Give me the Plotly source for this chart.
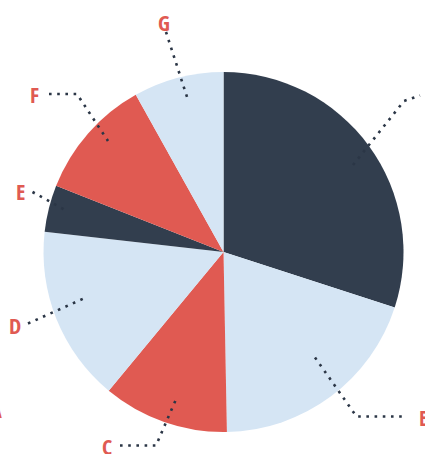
import plotly.graph_objects as go

# ---- data ----
labels = ["A", "B", "C", "D", "E", "F", "G"]
values = [30.0, 19.7, 11.3, 15.8, 4.2, 10.9, 8.1]
slice_colors = ["#323e4e", "#d5e5f4", "#e05a52", "#d5e5f4", "#323e4e", "#e05a52", "#d5e5f4"]

W, H = 425, 454
CX, CY, R = 223.5, 252.0, 180.0


def px(x):
    return x / W


def py(y):
    return 1 - y / H


fig = go.Figure(go.Pie(
    labels=labels,
    values=values,
    sort=False,
    direction="clockwise",
    rotation=0,
    marker=dict(colors=slice_colors, line=dict(width=0)),
    textinfo="none",
    hoverinfo="label+value",
    showlegend=False,
    domain=dict(x=[px(CX - R), px(CX + R)], y=[py(CY + R), py(CY - R)]),
))

# callout geometry (pixels): label position and leader polyline
callouts = {
    "G": dict(text=(163.5, 22), anchor="center", path=[(166, 32), (188, 100)]),
    "F": dict(text=(34.5, 94), anchor="center", path=[(49, 94), (77, 94), (108, 141)]),
    "E": dict(text=(20, 191), anchor="center", path=[(32.5, 192), (67, 211)]),
    "D": dict(text=(15, 325), anchor="center", path=[(28, 323.5), (87, 297)]),
    "C": dict(text=(107, 446), anchor="center", path=[(120, 445.5), (156, 445.5), (177, 397)]),
    "B": dict(text=(416.5, 417), anchor="left", path=[(315, 357.5), (356.5, 416.5), (405.5, 416.5)]),
    "A": dict(text=(3.5, 408.5), anchor="right", path=[(353, 165), (404, 101), (420, 95.5)]),
}

label_font = dict(family="Open Sans Condensed, Roboto Condensed, sans-serif",
                  size=22, color="#e05a52")

shapes = []
annotations = []
for lab in labels:
    c = callouts[lab]
    pts = c["path"]
    d = "M " + " L ".join(f"{px(x):.5f},{py(y):.5f}" for x, y in pts)
    shapes.append(dict(type="path", path=d, xref="paper", yref="paper",
                       line=dict(color="#2b3646", width=2.6, dash="2.6px,5.6px")))
    tx, ty = c["text"]
    annotations.append(dict(x=px(tx), y=py(ty), xref="paper", yref="paper",
                            text=f"<b>{lab}</b>", showarrow=False,
                            xanchor=c["anchor"], yanchor="middle",
                            font=label_font))

fig.update_layout(
    width=W, height=H,
    margin=dict(l=0, r=0, t=0, b=0),
    paper_bgcolor="white",
    plot_bgcolor="white",
    shapes=shapes,
    annotations=annotations,
)

fig.write_html("out.html", config={"displayModeBar": False},
               post_script="document.body.style.margin='0';")
